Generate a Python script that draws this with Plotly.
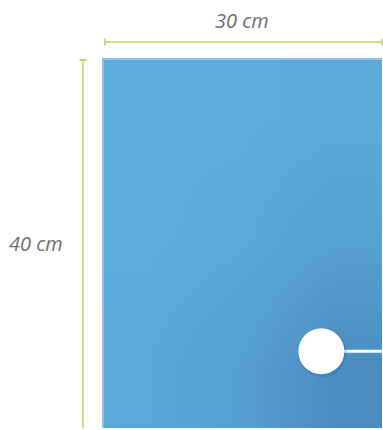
import plotly.graph_objects as go

# Panel size in cm
width_cm = 30
height_cm = 40
dim_labels = ['30 cm', '40 cm']

# Button position on the panel (cm from top-left)
button_x = 23.5
button_y = 31.7

# Shading grid over the panel (0 = light, 1 = dark)
shade_x = [0, 10, 20, 30]
shade_y = [0, 13.3, 26.7, 40]
shade_z = [
    [0.0, 0.0, 0.06],
    [0.0, 0.08, 0.3],
    [0.1, 0.33, 0.85],
]

fig = go.Figure()

# Panel with diagonal shading
fig.add_trace(go.Heatmap(
    x=shade_x, y=shade_y, z=shade_z,
    zsmooth='best',
    colorscale=[[0, '#5dabdc'], [1, '#4888ba']],
    zmin=0, zmax=1,
    showscale=False,
    hoverinfo='skip'
))

# Soft light edge on the left and top of the panel
fig.add_trace(go.Scatter(
    x=[0.1, 0.1, width_cm], y=[height_cm, 0.1, 0.1],
    mode='lines', line=dict(color='rgba(255,255,255,0.3)', width=2),
    showlegend=False, hoverinfo='skip'
))

dim_color = '#b9d45e'

# Width dimension line with end ticks
fig.add_trace(go.Scatter(
    x=[0.3, width_cm], y=[-1.73, -1.73],
    mode='lines', line=dict(color=dim_color, width=1.5),
    showlegend=False, hoverinfo='skip'
))
for xv in [0.3, width_cm]:
    fig.add_trace(go.Scatter(
        x=[xv, xv], y=[-2.1, -1.35],
        mode='lines', line=dict(color=dim_color, width=1.5),
        showlegend=False, hoverinfo='skip'
    ))

# Height dimension line with top tick
fig.add_trace(go.Scatter(
    x=[-2.04, -2.04], y=[0.2, height_cm],
    mode='lines', line=dict(color=dim_color, width=1.5),
    showlegend=False, hoverinfo='skip'
))
fig.add_trace(go.Scatter(
    x=[-2.4, -1.68], y=[0.2, 0.2],
    mode='lines', line=dict(color=dim_color, width=2),
    showlegend=False, hoverinfo='skip'
))

# Button: connector line + shadow + white circle
fig.add_trace(go.Scatter(
    x=[button_x, width_cm], y=[button_y, button_y],
    mode='lines', line=dict(color='white', width=3),
    showlegend=False, hoverinfo='skip'
))
fig.add_trace(go.Scatter(
    x=[button_x + 0.1], y=[button_y + 0.12],
    mode='markers',
    marker=dict(size=49, color='rgba(40,90,140,0.25)', line=dict(width=0)),
    showlegend=False, hoverinfo='skip'
))
fig.add_trace(go.Scatter(
    x=[button_x], y=[button_y],
    mode='markers',
    marker=dict(size=46, color='white', line=dict(width=0)),
    showlegend=False, hoverinfo='skip'
))

# Dimension labels
label_font = dict(family='Open Sans', size=20, color='#6e6e6e', style='italic')
fig.add_annotation(x=width_cm / 2, y=-4.1, text=dim_labels[0],
                   showarrow=False, font=label_font)
fig.add_annotation(x=-7.07, y=height_cm / 2, text=dim_labels[1],
                   showarrow=False, font=label_font)

fig.update_layout(
    width=383, height=430,
    margin=dict(l=0, r=0, t=0, b=0),
    paper_bgcolor='white', plot_bgcolor='white',
    xaxis=dict(range=[-10.93, 30.11], visible=False, fixedrange=True),
    yaxis=dict(range=[40.2, -6.27], visible=False, fixedrange=True),
    showlegend=False
)

fig.write_html("out.html", config={'displayModeBar': False},
               post_script="document.body.style.margin='0';document.body.style.overflow='hidden';")
